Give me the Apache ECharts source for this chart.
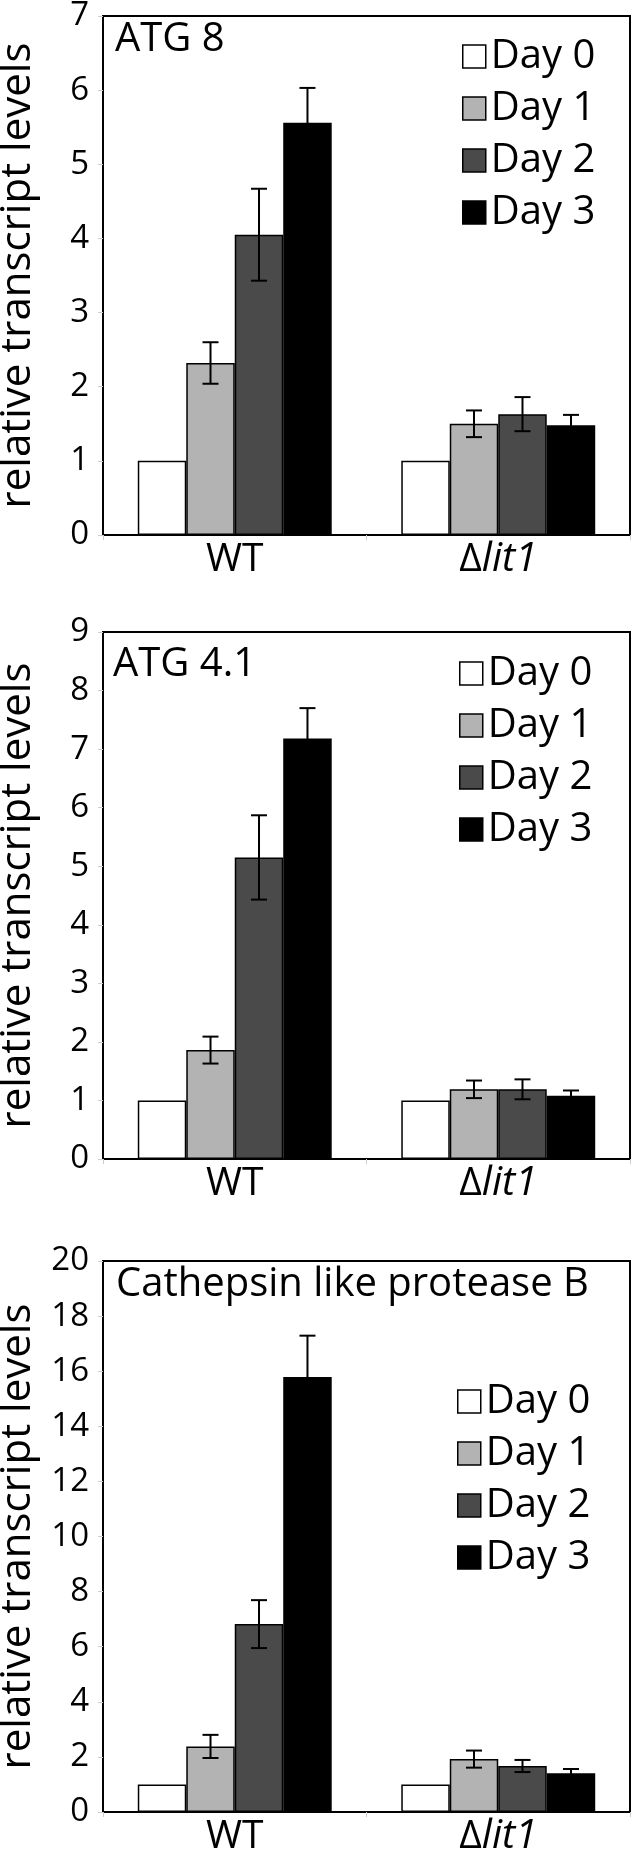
<!DOCTYPE html>
<html>
<head>
<meta charset="utf-8">
<script src="https://cdn.jsdelivr.net/npm/echarts@6/dist/echarts.min.js"></script>
<style>
html,body{margin:0;padding:0;background:#fff;}
#chart{width:631px;height:1863px;}
</style>
</head>
<body>
<div id="chart"></div>
<script>
// ---- data ----
const categories = ['WT', 'Δlit1'];
const days = ['Day 0', 'Day 1', 'Day 2', 'Day 3'];
const dayColors = ['#ffffff', '#b3b3b3', '#4a4a4a', '#000000'];

const panelTitles = ['ATG 8', 'ATG 4.1', 'Cathepsin like protease B'];
const yMax = [7, 9, 20];
const yInterval = [1, 1, 2];

// means per day: [WT, Δlit1]
const atg8Means  = [[1, 1], [2.32, 1.50], [4.05, 1.63], [5.56, 1.48]];
const atg8Err    = [[0, 0], [0.28, 0.18], [0.62, 0.23], [0.47, 0.14]];
const atg41Means = [[1, 1], [1.86, 1.19], [5.15, 1.19], [7.18, 1.08]];
const atg41Err   = [[0, 0], [0.23, 0.15], [0.72, 0.17], [0.52, 0.09]];
const cathMeans  = [[1, 1], [2.38, 1.92], [6.82, 1.67], [15.79, 1.41]];
const cathErr    = [[0, 0], [0.42, 0.31], [0.87, 0.22], [1.50, 0.15]];

const allMeans = [atg8Means, atg41Means, cathMeans];
const allErr = [atg8Err, atg41Err, cathErr];

// ---- layout ----
const FONT = 'Open Sans';
const grids = [
  {left: 103, right: 1, top: 16, height: 519},
  {left: 103, right: 1, top: 632, height: 527},
  {left: 103, right: 1, top: 1261, height: 551}
];
const titlePos = [{left: 115, top: 20}, {left: 113, top: 645}, {left: 116, top: 1265}];
const legendPos = [{left: 462, top: 36}, {left: 459, top: 653}, {left: 457, top: 1381}];
const CAT_GAP = 0.264;

const option = {
  backgroundColor: '#fff',
  animation: false,
  textStyle: {fontFamily: FONT, color: '#000'},
  grid: grids.map(g => Object.assign({
    show: true, borderColor: '#000', borderWidth: 2, backgroundColor: 'transparent',
    containLabel: false, outerBoundsMode: 'none'
  }, g)),
  title: panelTitles.map((t, i) => ({
    text: t, left: titlePos[i].left, top: titlePos[i].top, padding: 0,
    textStyle: {fontFamily: FONT, fontSize: 40, fontWeight: 'normal', color: '#000'}
  })),
  legend: legendPos.map((p, i) => ({
    data: days, orient: 'vertical', left: p.left, top: p.top, padding: 0,
    itemWidth: 23, itemHeight: 23, itemGap: 11, icon: 'rect', selectedMode: false,
    itemStyle: {borderColor: '#000', borderWidth: 1.5},
    textStyle: {fontFamily: FONT, fontSize: 40, color: '#000', lineHeight: 41, padding: [0, 0, 0, 0]}
  })),
  xAxis: grids.map((g, i) => ({
    type: 'category', gridIndex: i, data: categories,
    axisLine: {lineStyle: {color: '#000', width: 2}},
    axisTick: {show: true, length: 5, interval: 0, lineStyle: {color: '#cccccc', width: 1}},
    axisLabel: {
      interval: 0, margin: 5, fontFamily: FONT, fontSize: 39, color: '#000',
      formatter: function (v) { return v === 'Δlit1' ? '{d|Δ}{it|lit1}' : '{d|' + v + '}'; },
      rich: {
        d: {fontFamily: FONT, fontSize: 39, color: '#000'},
        it: {fontFamily: FONT, fontSize: 40, color: '#000', fontStyle: 'italic'}
      }
    }
  })),
  yAxis: grids.map((g, i) => ({
    type: 'value', gridIndex: i, min: 0, max: yMax[i], interval: yInterval[i],
    name: 'relative transcript levels', nameLocation: 'middle', nameGap: 64,
    nameTextStyle: {fontFamily: FONT, fontSize: 42, color: '#000'},
    axisLine: {show: true, lineStyle: {color: '#000', width: 2}},
    axisTick: {show: true, length: 5, lineStyle: {color: '#cccccc', width: 1}},
    axisLabel: {margin: 14, fontFamily: FONT, fontSize: 33, color: '#000'},
    splitLine: {show: false}
  })),
  series: []
};

allMeans.forEach((means, p) => {
  days.forEach((d, k) => {
    option.series.push({
      type: 'bar', name: d, xAxisIndex: p, yAxisIndex: p,
      data: means[k],
      barGap: '0%', barCategoryGap: (CAT_GAP * 100) + '%',
      itemStyle: {color: dayColors[k], borderColor: '#000', borderWidth: 1.5},
      z: 2
    });
  });
  const errData = [];
  days.forEach((d, k) => {
    categories.forEach((c, ci) => {
      const m = means[k][ci], e = allErr[p][k][ci];
      if (e > 0) errData.push([ci, m + e, m - e, k]);
    });
  });
  option.series.push({
    type: 'custom', name: 'err' + p, xAxisIndex: p, yAxisIndex: p, z: 5,
    data: errData, encode: {x: 0, y: [1, 2]},
    renderItem: function (params, api) {
      const ci = api.value(0), hi = api.value(1), lo = api.value(2), k = api.value(3);
      const band = api.size([1, 0])[0];
      const groupW = band * (1 - CAT_GAP);
      const bw = groupW / days.length;
      const top = api.coord([ci, hi]);
      const bot = api.coord([ci, lo]);
      const x = top[0] - groupW / 2 + bw * (k + 0.5);
      const cap = 8;
      const style = {stroke: '#000', lineWidth: 2, fill: null};
      return {
        type: 'group',
        children: [
          {type: 'line', shape: {x1: x, y1: top[1], x2: x, y2: bot[1]}, style: style},
          {type: 'line', shape: {x1: x - cap, y1: top[1], x2: x + cap, y2: top[1]}, style: style},
          {type: 'line', shape: {x1: x - cap, y1: bot[1], x2: x + cap, y2: bot[1]}, style: style}
        ]
      };
    }
  });
});

const chart = echarts.init(document.getElementById('chart'), null, {renderer: 'canvas'});
chart.setOption(option);
</script>
</body>
</html>
